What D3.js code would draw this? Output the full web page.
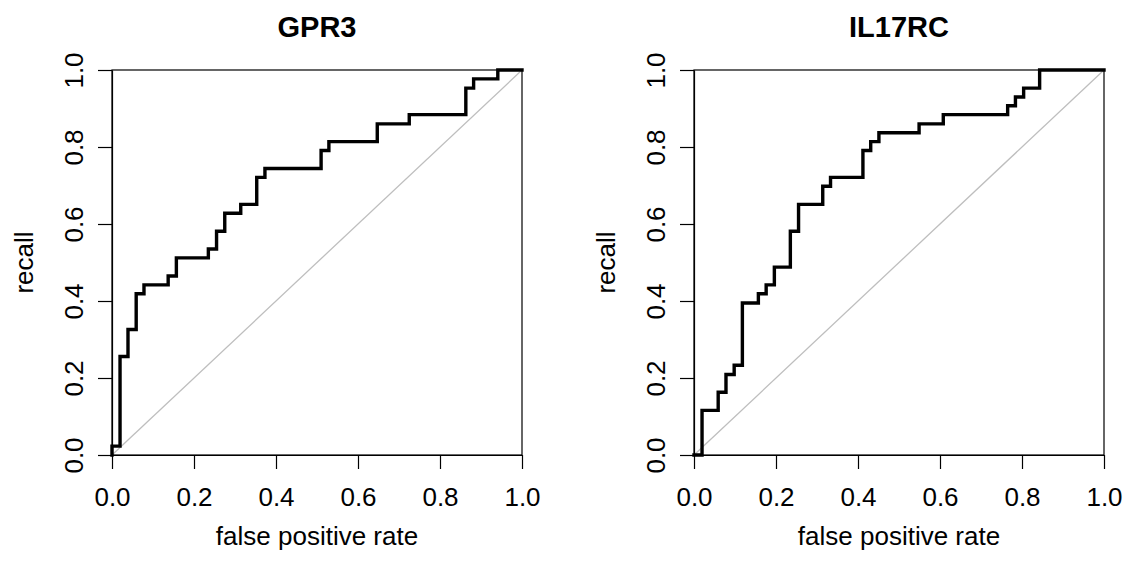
<!DOCTYPE html>
<html>
<head>
<meta charset="utf-8">
<script src="https://cdn.jsdelivr.net/npm/d3@7"></script>
<style>
  body { margin: 0; background: #fff; }
  svg text { font-family: "Liberation Sans", Arial, sans-serif; fill: #000; }
</style>
</head>
<body>
<svg id="chart" width="1130" height="561"></svg>
<script>
// Axis ticks shared by both panels
const tickValues = [0, 0.2, 0.4, 0.6, 0.8, 1.0];

// GPR3 ROC curve: (fpr, recall) at each step
const gpr3Fpr = [0, 0, 0.0196, 0.039, 0.059, 0.078, 0.137, 0.157, 0.235, 0.255, 0.275, 0.314, 0.353, 0.373, 0.510, 0.529, 0.647, 0.725, 0.863, 0.882, 0.941, 1.0];
const gpr3Tpr = [0, 0.023, 0.256, 0.326, 0.419, 0.442, 0.465, 0.512, 0.535, 0.581, 0.628, 0.651, 0.721, 0.744, 0.791, 0.814, 0.860, 0.884, 0.953, 0.977, 1.0, 1.0];

// IL17RC ROC curve
const il17Fpr = [0, 0.0196, 0.059, 0.078, 0.098, 0.118, 0.157, 0.176, 0.196, 0.235, 0.255, 0.314, 0.333, 0.412, 0.431, 0.451, 0.549, 0.608, 0.765, 0.784, 0.804, 0.843, 1.0];
const il17Tpr = [0, 0.116, 0.163, 0.209, 0.233, 0.395, 0.419, 0.442, 0.488, 0.581, 0.651, 0.698, 0.721, 0.791, 0.814, 0.837, 0.860, 0.884, 0.907, 0.930, 0.953, 1.0, 1.0];

const titles = ["GPR3", "IL17RC"];

const svg = d3.select("#chart");

// Panel boxes in pixels
const plotTop = 70, plotBottom = 455, plotWidth = 410;
const panels = [
  { title: titles[0], fpr: gpr3Fpr, tpr: gpr3Tpr, left: 112 },
  { title: titles[1], fpr: il17Fpr, tpr: il17Tpr, left: 694 }
];

panels.forEach(p => drawPanel(p));

function drawPanel(p) {
  const x = d3.scaleLinear().domain([0, 1]).range([p.left, p.left + plotWidth]);
  const y = d3.scaleLinear().domain([0, 1]).range([plotBottom, plotTop]);
  const g = svg.append("g");

  // Diagonal reference line
  g.append("line")
    .attr("x1", x(0)).attr("y1", y(0))
    .attr("x2", x(1)).attr("y2", y(1))
    .attr("stroke", "#bebebe")
    .attr("stroke-width", 1.3);

  // ROC step curve
  const points = p.fpr.map((f, i) => [f, p.tpr[i]]);
  const line = d3.line()
    .x(d => x(d[0]))
    .y(d => y(d[1]))
    .curve(d3.curveStepAfter);

  g.append("path")
    .datum(points)
    .attr("d", line)
    .attr("fill", "none")
    .attr("stroke", "#000")
    .attr("stroke-width", 3.4)
    .attr("stroke-linejoin", "miter")
    .attr("stroke-linecap", "square");

  // Box around the plot
  g.append("rect")
    .attr("x", x(0)).attr("y", y(1))
    .attr("width", x(1) - x(0)).attr("height", y(0) - y(1))
    .attr("fill", "none")
    .attr("stroke", "#000")
    .attr("stroke-width", 1.2);

  // Bottom axis
  const xAxis = g.append("g")
    .attr("transform", `translate(0,${plotBottom})`)
    .call(d3.axisBottom(x).tickValues(tickValues).tickFormat(d3.format(".1f")).tickSize(14).tickSizeOuter(0));
  xAxis.select(".domain").attr("stroke-width", 1.2);
  xAxis.selectAll(".tick line").attr("stroke-width", 1.2);
  xAxis.selectAll("text")
    .attr("y", 51).attr("dy", null)
    .attr("font-size", 26)
    .attr("fill", "#000");

  // Left axis, labels rotated like base R
  const yAxis = g.append("g")
    .attr("transform", `translate(${p.left},0)`)
    .call(d3.axisLeft(y).tickValues(tickValues).tickFormat(d3.format(".1f")).tickSize(14).tickSizeOuter(0));
  yAxis.select(".domain").attr("stroke-width", 1.2);
  yAxis.selectAll(".tick line").attr("stroke-width", 1.2);
  yAxis.selectAll("text")
    .attr("x", 0).attr("y", -29).attr("dy", null)
    .attr("text-anchor", "middle")
    .attr("transform", "rotate(-90)")
    .attr("font-size", 26)
    .attr("fill", "#000");

  // Axis titles
  const cx = (x(0) + x(1)) / 2;
  g.append("text")
    .attr("x", cx).attr("y", 545)
    .attr("text-anchor", "middle")
    .attr("font-size", 26)
    .text("false positive rate");

  g.append("text")
    .attr("transform", `translate(${p.left - 79},${(plotTop + plotBottom) / 2}) rotate(-90)`)
    .attr("text-anchor", "middle")
    .attr("font-size", 26)
    .text("recall");

  // Panel title
  g.append("text")
    .attr("x", cx).attr("y", 37)
    .attr("text-anchor", "middle")
    .attr("font-size", 29)
    .attr("font-weight", "bold")
    .text(p.title);
}
</script>
</body>
</html>
